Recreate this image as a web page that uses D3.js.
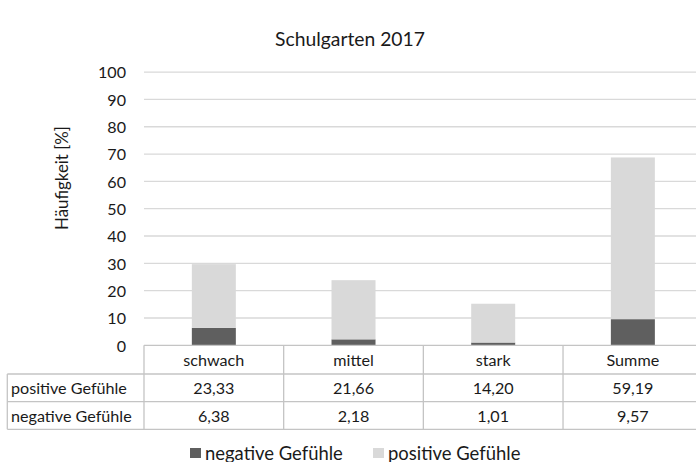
<!DOCTYPE html>
<html><head><meta charset="utf-8">
<script src="https://cdn.jsdelivr.net/npm/d3@7"></script>
<style>body{margin:0;background:#fff}svg{display:block;font-family:Lato,"Open Sans",sans-serif}</style>
</head><body><svg id="c" width="696" height="462"></svg>
<script>
const title = "Schulgarten 2017";
const yTitle = "Häufigkeit [%]";
const categories = ["schwach", "mittel", "stark", "Summe"];
const seriesNames = ["negative Gefühle", "positive Gefühle"];
const negative = [6.38, 2.18, 1.01, 9.57];
const positive = [23.33, 21.66, 14.20, 59.19];
const negLabels = ["6,38", "2,18", "1,01", "9,57"];
const posLabels = ["23,33", "21,66", "14,20", "59,19"];
const yTicks = [0,10,20,30,40,50,60,70,80,90,100];
const colors = {neg: "#5f5f5f", pos: "#d9d9d9"};
const txt = "#1a1a1a";

const svg = d3.select("#c");
function fit(sel, size, w) {
  sel.attr("font-size", size);
  const m = sel.node().getComputedTextLength();
  if (m > 0) sel.attr("font-size", size * w / m);
  return sel;
}
const x = d3.scaleBand().domain(categories).range([144, 702.7]).paddingInner(0).paddingOuter(0);
const y = d3.scaleLinear().domain([0,100]).range([345.3, 72.1]);
const barW = x.bandwidth()*0.315;

// title
fit(svg.append("text").attr("x",350).attr("y",46).attr("text-anchor","middle")
  .attr("fill",txt).text(title), 18, 150);

// gridlines
svg.append("g").selectAll("line").data(yTicks.filter(d=>d>0)).join("line")
  .attr("x1",144).attr("x2",702).attr("y1",d=>y(d)).attr("y2",d=>y(d))
  .attr("stroke","#d9d9d9").attr("stroke-width",1.3);

// y axis tick labels
const ya = svg.append("g").attr("transform","translate(126,0)")
  .call(d3.axisLeft(y).tickValues(yTicks).tickSize(0).tickPadding(0));
ya.select(".domain").remove();
ya.selectAll("text").attr("font-family","Lato").attr("fill",txt).attr("dy","0.36em");
const tick100 = ya.selectAll("text").filter(d=>d===100);
fit(tick100, 16, 28);
ya.selectAll("text").attr("font-size", tick100.attr("font-size"));

// y title
fit(svg.append("text").attr("transform","translate(68,178) rotate(-90)").attr("text-anchor","middle")
  .attr("fill",txt).text(yTitle), 15, 104);

// stacked bars
const stack = d3.stack().keys(["neg","pos"])(categories.map((c,i)=>({cat:c,neg:negative[i],pos:positive[i]})));
svg.append("g").selectAll("g").data(stack).join("g")
  .attr("fill",d=>colors[d.key])
  .selectAll("rect").data(d=>d).join("rect")
  .attr("x",d=>x(d.data.cat)+x.bandwidth()/2-barW/2)
  .attr("width",barW)
  .attr("y",d=>y(d[1])).attr("height",d=>y(d[0])-y(d[1]));

// data table
const rows = [345.3, 374, 401.7, 429.3];
const lc = "#c4c4c4";
const tg = svg.append("g").attr("stroke",lc).attr("stroke-width",1.3);
[0,1,2,3].forEach(r=>tg.append("line").attr("x1",r===0?144:7.3).attr("x2",702).attr("y1",rows[r]).attr("y2",rows[r]));
tg.append("line").attr("x1",7.3).attr("x2",7.3).attr("y1",rows[1]).attr("y2",rows[3]);
categories.forEach(c=>tg.append("line").attr("x1",x(c)).attr("x2",x(c)).attr("y1",rows[0]).attr("y2",rows[3]));

const tt = svg.append("g").attr("fill",txt);
const rowLab = tt.append("text").attr("x",11).attr("y",(rows[1]+rows[2])/2+6).text(seriesNames[1]);
fit(rowLab, 16, 116);
const fs = rowLab.attr("font-size");
tt.attr("font-size", fs);
rowLab.attr("font-size", null);
tt.append("text").attr("x",11).attr("y",(rows[2]+rows[3])/2+6).text(seriesNames[0]);
tt.selectAll(".h").data(categories).join("text")
  .attr("x",d=>x(d)+x.bandwidth()/2).attr("y",(rows[0]+rows[1])/2+6).attr("text-anchor","middle").text(d=>d);
tt.selectAll(".p").data(posLabels).join("text")
  .attr("x",(d,i)=>x(categories[i])+x.bandwidth()/2).attr("y",(rows[1]+rows[2])/2+6).attr("text-anchor","middle").text(d=>d);
tt.selectAll(".n").data(negLabels).join("text")
  .attr("x",(d,i)=>x(categories[i])+x.bandwidth()/2).attr("y",(rows[2]+rows[3])/2+6).attr("text-anchor","middle").text(d=>d);

// legend
const leg = [{name:seriesNames[0],c:colors.neg,x:190},{name:seriesNames[1],c:colors.pos,x:373}];
const lg = svg.append("g");
lg.selectAll("rect").data(leg).join("rect").attr("x",d=>d.x).attr("y",448).attr("width",11).attr("height",10).attr("fill",d=>d.c);
const lt = lg.selectAll("text").data(leg).join("text").attr("x",d=>d.x+15).attr("y",459.5)
  .attr("fill",txt).text(d=>d.name);
fit(d3.select(lt.nodes()[0]), 17, 138);
lt.attr("font-size", d3.select(lt.nodes()[0]).attr("font-size"));
</script></body></html>
